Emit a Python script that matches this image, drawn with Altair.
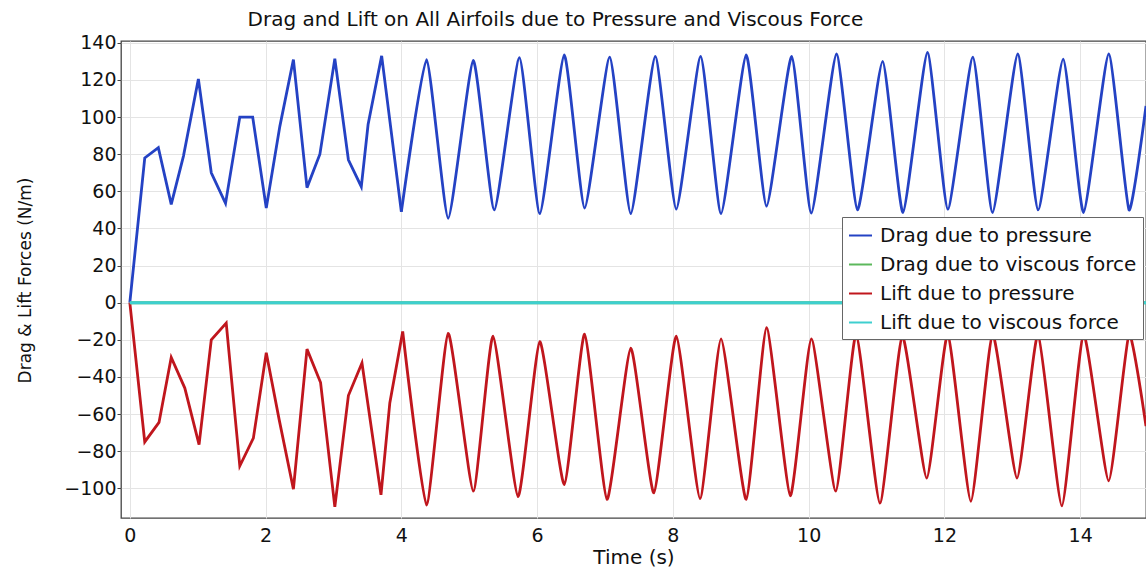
import altair as alt
import pandas as pd

# ---- data ----
drag_early_t = [0, 0.22, 0.42, 0.61, 0.79, 1.01, 1.20, 1.41, 1.62, 1.81, 2.01, 2.21, 2.41,
                2.61, 2.80, 3.02, 3.22, 3.41, 3.51, 3.71, 4.00]
drag_early_v = [0, 78, 83.5, 53, 79, 120.5, 70, 53.5, 100, 100, 51, 95, 131,
                62, 80, 131.5, 77, 62.5, 96, 133, 49]

drag_late_t = [4.00, 4.37, 4.69, 5.06, 5.37, 5.74, 6.04, 6.40, 6.70, 7.07, 7.38, 7.74, 8.05,
               8.41, 8.71, 9.08, 9.38, 9.75, 10.04, 10.41, 10.72, 11.09, 11.39, 11.75, 12.05,
               12.42, 12.71, 13.08, 13.38, 13.75, 14.05, 14.42, 14.72, 14.97]
drag_late_v = [49, 131, 45.5, 130.5, 50, 132, 48, 133.5, 51, 132.3, 48, 132.7, 50.4,
               132.7, 48, 133.5, 52, 132.7, 48.3, 134, 50, 130, 48.6, 134.8, 50.4,
               132.3, 48.6, 134, 50, 131.2, 48.6, 134, 50, 106]

lift_early_t = [0, 0.22, 0.43, 0.61, 0.81, 1.02, 1.20, 1.42, 1.62, 1.82, 2.01, 2.20, 2.41,
                2.61, 2.81, 3.02, 3.22, 3.42, 3.70, 3.83, 4.02]
lift_early_v = [0, -75, -64.5, -29.5, -46, -76.5, -20, -11, -88, -73, -27, -63, -100.5,
                -25, -43, -110, -50, -32.5, -103.5, -54, -15.5]

lift_late_t = [4.02, 4.37, 4.69, 5.06, 5.35, 5.72, 6.04, 6.40, 6.70, 7.03, 7.38, 7.72, 8.05,
               8.40, 8.71, 9.08, 9.38, 9.73, 10.04, 10.40, 10.70, 11.05, 11.38, 11.74, 12.05,
               12.39, 12.71, 13.07, 13.38, 13.73, 14.05, 14.42, 14.72, 14.97]
lift_late_v = [-15.5, -109, -16.5, -101.5, -18, -104.5, -21, -98, -17, -106, -24.5, -102.5, -18,
               -105.5, -19.5, -106, -13.5, -104, -19.5, -101.5, -17, -108, -18, -94.5, -17,
               -107, -17, -94.5, -17, -109.5, -17, -96, -17, -66.5]

viscous_t = [0, 14.97]
drag_viscous_v = [0, 0]
lift_viscous_v = [0, 0]

series_names = ["Drag due to pressure", "Drag due to viscous force",
                "Lift due to pressure", "Lift due to viscous force"]
series_colors = ["#2442c4", "#5cb85c", "#c0161d", "#3ecfcf"]

x_ticks = [0, 2, 4, 6, 8, 10, 12, 14]
y_ticks = [-100, -80, -60, -40, -20, 0, 20, 40, 60, 80, 100, 120, 140]

rows = []
def add(ts, vs, name, part):
    for t, v in zip(ts, vs):
        rows.append({"t": t, "v": v, "series": name, "part": part})

add(drag_early_t, drag_early_v, series_names[0], "early")
add(drag_late_t, drag_late_v, series_names[0], "late")
add(lift_early_t, lift_early_v, series_names[2], "early")
add(lift_late_t, lift_late_v, series_names[2], "late")
add(viscous_t, drag_viscous_v, series_names[1], "dv")
add(viscous_t, lift_viscous_v, series_names[3], "lv")
df = pd.DataFrame(rows)

FONT = "DejaVu Sans"

color = alt.Color(
    "series:N",
    scale=alt.Scale(domain=series_names, range=series_colors),
    legend=alt.Legend(
        title=None, orient="none", legendX=721, legendY=176,
        symbolType="stroke", symbolSize=529, symbolStrokeWidth=2,
        labelFont=FONT, labelFontSize=20, labelColor="#111", labelOffset=7,
        strokeColor="#666", fillColor="white", padding=6, rowPadding=6,
        labelLimit=400,
    ),
)
x = alt.X("t:Q",
          scale=alt.Scale(domain=[-0.13, 14.97], nice=False, zero=False),
          axis=alt.Axis(values=x_ticks, title="Time (s)", format="d", ticks=False,
                        labelPadding=8, titlePadding=2, titleFontSize=20))
y = alt.Y("v:Q",
          scale=alt.Scale(domain=[-116, 141], nice=False, zero=False),
          axis=alt.Axis(values=y_ticks, title="Drag & Lift Forces (N/m)", format="d",
                        tickSize=4, labelPadding=1, titleX=-96, titleY=239,
                        titleBaseline="middle", titleFontSize=17))

base = alt.Chart(df).encode(x=x, y=y, color=color, order="t:Q")

early = base.transform_filter(alt.datum.part == "early").mark_line(strokeWidth=2.8)
late = base.transform_filter(alt.datum.part == "late").mark_line(
    strokeWidth=2.8, interpolate="cardinal", tension=0.5)
dv = base.transform_filter(alt.datum.part == "dv").mark_line(strokeWidth=3)
lv = base.transform_filter(alt.datum.part == "lv").mark_line(strokeWidth=3)

chart = alt.layer(early, late, dv, lv).properties(
    width=1025, height=477,
    autosize=alt.AutoSizeParams(type="none"),
    padding={"left": 121, "top": 41, "right": 0, "bottom": 51},
    title=alt.TitleParams(
        text="Drag and Lift on All Airfoils due to Pressure and Viscous Force",
        font=FONT, fontSize=20, fontWeight="normal", color="#111",
        anchor="middle", dx=-78, offset=4,
    ),
).configure(
    background="white"
).configure_view(
    stroke="#444", strokeWidth=1.3
).configure_axis(
    domain=False, grid=True, gridColor="#e4e4e4", gridWidth=1,
    labelFont=FONT, labelFontSize=19, labelColor="#111",
    titleFont=FONT, titleFontWeight="normal", titleColor="#111",
    tickColor="#444",
)

chart.save("out.html", embed_options={"renderer": "svg", "actions": False})
